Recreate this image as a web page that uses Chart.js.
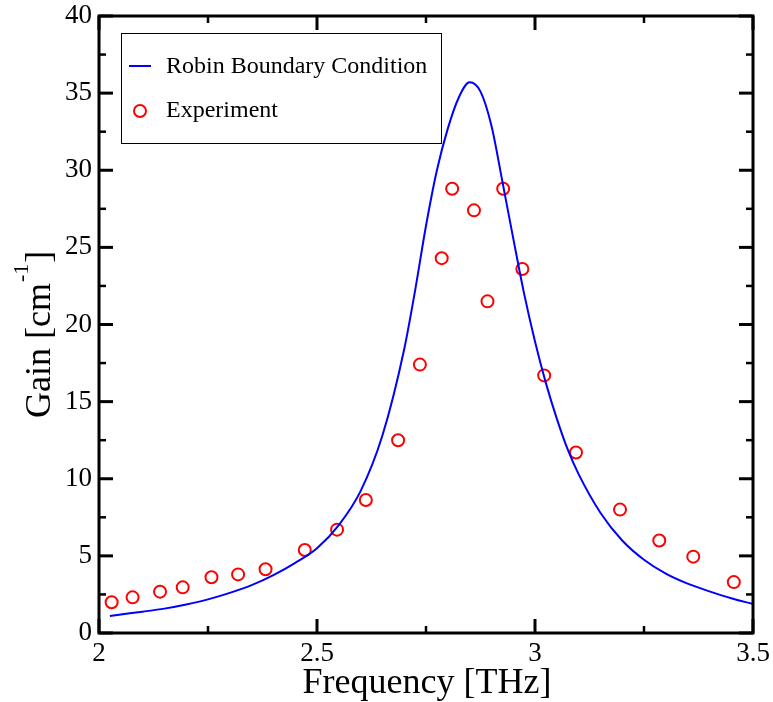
<!DOCTYPE html>
<html lang="en">
  <head>
    <meta charset="UTF-8" />
    <title>Gain vs Frequency</title>
    <script src="https://cdn.jsdelivr.net/npm/chart.js"></script>
    <style>
      body {
        margin: 0;
        background: #ffffff;
      }
      #wrap {
        width: 773px;
        height: 702px;
      }
    </style>
  </head>
  <body>
    <div id="wrap"><canvas id="gainChart" width="773" height="702"></canvas></div>

    <script>
      // Robin boundary condition curve
      const curveFreq = [
        2.025, 2.05, 2.1, 2.15, 2.2, 2.25, 2.3, 2.35, 2.4, 2.45, 2.5, 2.55,
        2.6, 2.65, 2.7, 2.725, 2.75, 2.775, 2.8, 2.825, 2.85, 2.875, 2.9,
        2.925, 2.95, 2.975, 3.0, 3.025, 3.05, 3.075, 3.1, 3.15, 3.2, 3.25,
        3.3, 3.35, 3.4, 3.45, 3.5,
      ];
      const curveGain = [
        1.1, 1.2, 1.38, 1.58, 1.85, 2.18, 2.6, 3.1, 3.75, 4.55, 5.5, 7.0,
        9.2, 12.8, 18.4, 22.2, 26.4, 30.0, 32.7, 34.7, 35.7, 35.1, 32.9,
        29.3, 25.6, 22.0, 18.9, 16.2, 13.9, 11.9, 10.3, 7.8, 6.0, 4.75,
        3.85, 3.2, 2.7, 2.25, 1.88,
      ];

      // Experiment points
      const expFreq = [
        2.029, 2.077, 2.14, 2.192, 2.258, 2.319, 2.382, 2.472, 2.546, 2.612,
        2.686, 2.736, 2.786, 2.81, 2.86, 2.891, 2.927, 2.971, 3.021, 3.094,
        3.195, 3.285, 3.363, 3.456,
      ];
      const expGain = [
        1.99, 2.31, 2.68, 2.96, 3.61, 3.8, 4.13, 5.38, 6.7, 8.62,
        12.5, 17.4, 24.3, 28.8, 27.4, 21.5, 28.8, 23.6, 16.7, 11.7,
        8.0, 6.0, 4.95, 3.3,
      ];

      const seriesNames = ["Robin Boundary Condition", "Experiment"];
      const xTickValues = [2, 2.5, 3, 3.5];
      const yTickValues = [0, 5, 10, 15, 20, 25, 30, 35, 40];

      const serif = "'Liberation Serif', 'DejaVu Serif', serif";

      // frame, inward ticks, legend and axis titles (xmgrace look)
      const gracePlugin = {
        id: "grace",
        afterDatasetsDraw(chart) {
          const { ctx, chartArea } = chart;
          const { left, right, top, bottom } = chartArea;
          const xs = chart.scales.x;
          const ys = chart.scales.y;
          ctx.save();
          ctx.strokeStyle = "#000000";
          ctx.lineCap = "butt";

          // ticks on all four sides
          const tick = (x1, y1, x2, y2, w) => {
            ctx.lineWidth = w;
            ctx.beginPath();
            ctx.moveTo(x1, y1);
            ctx.lineTo(x2, y2);
            ctx.stroke();
          };
          xTickValues.forEach((v, i) => {
            const px = xs.getPixelForValue(v);
            tick(px, bottom, px, bottom - 14, 3);
            tick(px, top, px, top + 14, 3);
            if (i < xTickValues.length - 1) {
              const mx = xs.getPixelForValue((v + xTickValues[i + 1]) / 2);
              tick(mx, bottom, mx, bottom - 7, 2.5);
              tick(mx, top, mx, top + 7, 2.5);
            }
          });
          yTickValues.forEach((v, i) => {
            const py = ys.getPixelForValue(v);
            tick(left, py, left + 14, py, 3);
            tick(right, py, right - 14, py, 3);
            if (i < yTickValues.length - 1) {
              const my = ys.getPixelForValue((v + yTickValues[i + 1]) / 2);
              tick(left, my, left + 7, my, 2.5);
              tick(right, my, right - 7, my, 2.5);
            }
          });

          // frame
          ctx.lineWidth = 3;
          ctx.strokeRect(left, top, right - left, bottom - top);

          // legend box
          const ds = chart.data.datasets;
          ctx.lineWidth = 1;
          ctx.fillStyle = "#ffffff";
          ctx.fillRect(121.5, 33.5, 320, 110);
          ctx.strokeRect(121.5, 33.5, 320, 110);
          ctx.strokeStyle = ds[0].borderColor;
          ctx.lineWidth = 2;
          ctx.beginPath();
          ctx.moveTo(129, 66);
          ctx.lineTo(151, 66);
          ctx.stroke();
          ctx.strokeStyle = ds[1].borderColor;
          ctx.beginPath();
          ctx.arc(140, 111, 6, 0, Math.PI * 2);
          ctx.stroke();
          ctx.fillStyle = "#000000";
          ctx.font = "24px " + serif;
          ctx.textAlign = "left";
          ctx.textBaseline = "alphabetic";
          ctx.fillText(ds[0].label, 166, 73);
          ctx.fillText(ds[1].label, 166, 117);

          // x title
          ctx.font = "36px " + serif;
          ctx.textAlign = "center";
          ctx.fillText("Frequency [THz]", (left + right) / 2 + 1, 693);

          // y title with superscript
          ctx.translate(50, 418);
          ctx.rotate(-Math.PI / 2);
          ctx.textAlign = "left";
          const mainTxt = "Gain [cm";
          ctx.font = "36px " + serif;
          ctx.fillText(mainTxt, 0, 0);
          let w = ctx.measureText(mainTxt).width;
          ctx.font = "22px " + serif;
          ctx.fillText("-1", w + 1, -22);
          w += ctx.measureText("-1").width + 2;
          ctx.font = "36px " + serif;
          ctx.fillText("]", w, 0);
          ctx.restore();
        },
      };

      const ctx = document.getElementById("gainChart").getContext("2d");
      const gainChart = new Chart(ctx, {
        type: "scatter",
        data: {
          datasets: [
            {
              label: seriesNames[0],
              data: curveFreq.map((f, i) => ({ x: f, y: curveGain[i] })),
              showLine: true,
              borderColor: "#0000ff",
              borderWidth: 2,
              pointRadius: 0,
              cubicInterpolationMode: "monotone",
              fill: false,
            },
            {
              label: seriesNames[1],
              data: expFreq.map((f, i) => ({ x: f, y: expGain[i] })),
              showLine: false,
              borderColor: "#ff0000",
              backgroundColor: "rgba(0,0,0,0)",
              borderWidth: 2,
              pointRadius: 6,
              pointStyle: "circle",
            },
          ],
        },
        options: {
          responsive: false,
          devicePixelRatio: 1,
          animation: false,
          layout: { padding: { top: 16, right: 20, left: 0, bottom: 0 } },
          plugins: {
            legend: { display: false },
            tooltip: { enabled: false },
          },
          scales: {
            x: {
              type: "linear",
              min: 2,
              max: 3.5,
              afterBuildTicks: (s) => {
                s.ticks = xTickValues.map((v) => ({ value: v }));
              },
              afterFit: (s) => {
                s.height = 69;
                s.paddingLeft = 0;
                s.paddingRight = 0;
              },
              grid: { display: false, drawTicks: false },
              border: { display: false },
              ticks: {
                color: "#000000",
                padding: 5,
                maxRotation: 0,
                autoSkip: false,
                font: { family: serif, size: 27 },
                callback: (v) => String(v),
              },
            },
            y: {
              type: "linear",
              min: 0,
              max: 40,
              afterBuildTicks: (s) => {
                s.ticks = yTickValues.map((v) => ({ value: v }));
              },
              afterFit: (s) => {
                s.width = 99;
                s.paddingTop = 0;
                s.paddingBottom = 0;
              },
              grid: { display: false, drawTicks: false },
              border: { display: false },
              ticks: {
                color: "#000000",
                padding: 7,
                autoSkip: false,
                font: { family: serif, size: 27 },
                callback: (v) => String(v),
              },
            },
          },
        },
        plugins: [gracePlugin],
      });
    </script>
  </body>
</html>
